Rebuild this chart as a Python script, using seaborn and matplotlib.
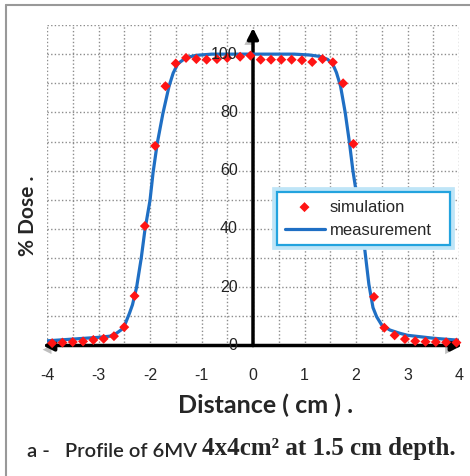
import numpy as np
import pandas as pd
import matplotlib
matplotlib.use("Agg")
import matplotlib.pyplot as plt
import matplotlib.patheffects as pe
from matplotlib.lines import Line2D
import seaborn as sns

# ---- data ----
sim_x = [-3.9, -3.7, -3.5, -3.3, -3.1, -2.9, -2.7, -2.5, -2.3, -2.1, -1.9, -1.7, -1.5, -1.3,
         -1.1, -0.9, -0.7, -0.5, -0.25, -0.05, 0.15, 0.35, 0.55, 0.75, 0.95, 1.15, 1.35,
         1.55, 1.75, 1.95, 2.15, 2.35, 2.55, 2.75, 2.95, 3.15, 3.35, 3.55, 3.75, 3.95]
sim_y = [0.8, 1.0, 1.2, 1.4, 1.9, 2.3, 3.2, 6.3, 17, 41, 68.5, 89, 96.8, 98.7,
         98.3, 98.1, 98.3, 98.7, 99.1, 99.5, 98.1, 98.1, 98.1, 98.1, 97.9, 97.3, 98.3,
         97.2, 90, 69.2, 41, 16.7, 6.1, 3.5, 2.2, 1.5, 1.3, 1.2, 1.1, 1.0]

meas_x = [-4.0, -3.5, -3.0, -2.78, -2.65, -2.55, -2.48, -2.40, -2.34, -2.26, -2.17, -2.10,
          -2.00, -1.94, -1.86, -1.75, -1.63, -1.55, -1.46, -1.3, -1.1, -0.8, 0.0, 0.8,
          1.1, 1.3, 1.45, 1.55, 1.62, 1.70, 1.79, 1.87, 1.94, 2.01, 2.09, 2.17, 2.25,
          2.33, 2.40, 2.50, 2.66, 2.85, 3.0, 3.5, 4.0]
meas_y = [1.6, 2.2, 2.8, 3.2, 4.2, 5.5, 7.5, 11, 14, 20, 30, 39.5,
          49.8, 59.4, 69.3, 79.6, 89, 93.5, 96.7, 98.8, 99.6, 100, 100, 100,
          99.7, 99.2, 98.2, 96.5, 93.7, 89, 80, 70, 60, 52, 43, 33, 21,
          13, 9.9, 7, 5.3, 4.2, 3.5, 2.5, 1.8]

x_ticks = [-4, -3, -2, -1, 0, 1, 2, 3, 4]
y_ticks = [0, 20, 40, 60, 80, 100]
series_names = ["simulation", "measurement"]
x_label = "Distance ( cm ) ."
y_label = "% Dose ."
caption_a = "a -   Profile of 6MV "
caption_b = "4x4cm\u00b2 at 1.5 cm depth."

# ---- style ----
sns.set_theme(style="white")
plt.rcParams['font.family'] = ['Liberation Sans', 'DejaVu Sans']

W, H = 470, 476
fig = plt.figure(figsize=(W / 100, H / 100), dpi=100)
fig.patch.set_facecolor("white")
ax = fig.add_axes([47 / W, 1 - 345.5 / H, 412 / W, 320.5 / H])
ax.set_facecolor("white")

sim_df = pd.DataFrame({"x": sim_x, "y": sim_y})
meas_df = pd.DataFrame({"x": meas_x, "y": meas_y})

line_color = "#1f6fc4"
sns.lineplot(data=meas_df, x="x", y="y", ax=ax, color=line_color, linewidth=2.3,
             sort=False, label=series_names[1], zorder=4)
sns.scatterplot(data=sim_df, x="x", y="y", ax=ax, marker="D", s=26, color="#ff1414",
                edgecolor="none", label=series_names[0], zorder=5, clip_on=False)

ax.set_xlim(-4, 4)
ax.set_ylim(0, 110)

ax.set_xticks(x_ticks)
ax.set_xticklabels([str(t) for t in x_ticks])
ax.set_yticks(y_ticks)
ax.set_yticklabels([])
ax.set_xticks(np.arange(-4, 4.01, 0.5), minor=True)
ax.set_yticks(np.arange(0, 110.1, 10), minor=True)
ax.grid(which="both", color="#8c8c8c", linestyle=(0, (1, 1.6)), linewidth=1.0, zorder=0)
ax.set_axisbelow(True)

for s in ax.spines.values():
    s.set_color("none")
    s.set_linewidth(0)

ax.tick_params(axis="both", which="both", length=0)
ax.tick_params(axis="x", pad=16, labelsize=11.5)

# y tick labels placed along the vertical axis at x = 0
for t in y_ticks:
    ax.annotate(str(t), xy=(0, t), xytext=(-11, 0), textcoords="offset points",
                ha="right", va="center", fontsize=11.5, color="#222222", zorder=7,
                annotation_clip=False)

# axis arrows
arrow_kw = dict(arrowstyle="-|>", color="black", lw=2.5, mutation_scale=16,
                shrinkA=0, shrinkB=0)
for tip in [(0, 109), (-4.08, 0), (4.06, 0)]:
    a = ax.annotate("", xy=tip, xytext=(0, 0), arrowprops=arrow_kw,
                    annotation_clip=False, zorder=3)
    a.arrow_patch.set_path_effects([pe.SimplePatchShadow(offset=(-3, -3), alpha=0.25), pe.Normal()])

# axis labels
ax.set_xlabel(x_label, family=["Lato", "DejaVu Sans"], fontweight="bold", fontsize=18)
ax.xaxis.set_label_coords((266 - 47) / 412, (345.5 - 405) / 320.5)
ax.xaxis.label.set_va("center")
ax.set_ylabel(y_label, family=["Lato", "DejaVu Sans"], fontweight="bold", fontsize=15)
ax.yaxis.set_label_coords((28 - 47) / 412, (345.5 - 216) / 320.5)
ax.yaxis.label.set_va("center")

# legend
handles, labels = ax.get_legend_handles_labels()
order = [labels.index(n) for n in series_names]
lx0 = (277 - 47) / 412
lx1 = (450 - 47) / 412
ly0 = (345.5 - 248) / 320.5
ly1 = (345.5 - 192) / 320.5
leg = ax.legend([handles[i] for i in order], [labels[i] for i in order],
                loc="upper left", bbox_to_anchor=(lx0, ly0, lx1 - lx0, ly1 - ly0),
                mode="expand", borderaxespad=0, frameon=True, fancybox=False, framealpha=1,
                fontsize=12, handlelength=2.4, handletextpad=0.3, labelspacing=0.5,
                borderpad=0.45)
frame = leg.get_frame()
frame.set_edgecolor("#23a3de")
frame.set_linewidth(1.6)
frame.set_facecolor("white")
frame.set_path_effects([pe.Stroke(linewidth=7, foreground="#bfe5f7"), pe.Normal()])
leg.set_zorder(10)

# caption
t1 = fig.text(27 / W, 1 - 457 / H, caption_a, family=["Lato", "DejaVu Sans"],
              fontsize=14.5, fontweight="semibold", va="baseline", ha="left")
ax.annotate(caption_b, xy=(1, 0), xycoords=t1, va="bottom", ha="left",
            family=["Liberation Serif", "DejaVu Serif"], fontweight="bold", fontsize=18,
            annotation_clip=False)

# outer border (left & top)
fig.add_artist(Line2D([6 / W, 6 / W], [0, 1 - 5 / H], color="#999999", lw=1.5))
fig.add_artist(Line2D([6 / W, 1], [1 - 5 / H, 1 - 5 / H], color="#999999", lw=1.5))

fig.savefig("out.png", dpi=100, facecolor="white")
